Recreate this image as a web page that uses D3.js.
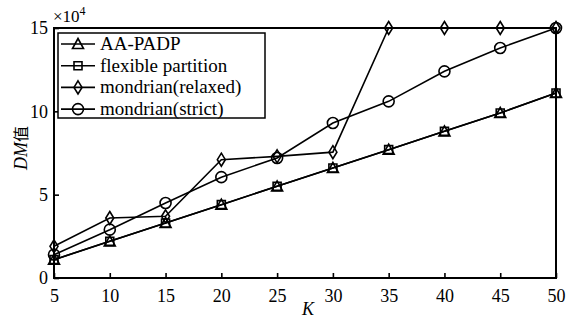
<!DOCTYPE html>
<html>
<head>
<meta charset="utf-8">
<script src="https://cdn.jsdelivr.net/npm/d3@7"></script>
<style>
  body { margin: 0; background: #fff; }
  svg text { font-family: "Liberation Serif", "Times New Roman", "Noto Sans CJK SC", serif; fill: #000; }
</style>
</head>
<body>
<div id="main"></div>
<script>
// K values on the x axis
const ks = [5, 10, 15, 20, 25, 30, 35, 40, 45, 50];

// DM values, in units of 10^4
const aaPadp = [1.1, 2.2, 3.3, 4.4, 5.5, 6.6, 7.7, 8.8, 9.9, 11.1];
const flexible = [1.1, 2.2, 3.3, 4.4, 5.5, 6.6, 7.7, 8.8, 9.9, 11.1];
const relaxed = [1.9, 3.6, 3.7, 7.1, 7.3, 7.55, 15, 15, 15, 15];
const strict = [1.4, 2.9, 4.5, 6.05, 7.2, 9.3, 10.6, 12.4, 13.8, 15];

const xTicks = [5, 10, 15, 20, 25, 30, 35, 40, 45, 50];
const yTicks = [0, 5, 10, 15];

const seriesNames = ["AA-PADP", "flexible partition", "mondrian(relaxed)", "mondrian(strict)"];
const seriesValues = [aaPadp, flexible, relaxed, strict];
const seriesMarks = ["triangle", "square", "diamond", "circle"];

const width = 568, height = 320;
const plotLeft = 54, plotRight = 556, plotTop = 28, plotBottom = 278;

const svg = d3.select("#main").append("svg")
    .attr("width", width)
    .attr("height", height);

const x = d3.scaleLinear().domain([5, 50]).range([plotLeft, plotRight]);
const y = d3.scaleLinear().domain([0, 15]).range([plotBottom, plotTop]);

// marker shapes
function markPath(kind) {
    if (kind == "triangle") return "M0,-5.5L5.5,4.5L-5.5,4.5Z";
    if (kind == "square") return "M-4,-4L4,-4L4,4L-4,4Z";
    if (kind == "diamond") return "M0,-6.5L4,0L0,6.5L-4,0Z";
    return d3.symbol().type(d3.symbolCircle).size(Math.PI * 5.5 * 5.5)();
}

const lineGenerator = d3.line()
    .x((d, i) => x(ks[i]))
    .y((d) => y(d));

const chart = svg.append("g");

seriesValues.forEach((vals, s) => {
    chart.append("path")
        .attr("fill", "none")
        .attr("stroke", "#000")
        .attr("stroke-width", 1.6)
        .attr("d", lineGenerator(vals));
});

seriesValues.forEach((vals, s) => {
    chart.selectAll(null)
        .data(vals)
        .enter()
        .append("path")
        .attr("transform", (d, i) => `translate(${x(ks[i])},${y(d)})`)
        .attr("d", markPath(seriesMarks[s]))
        .attr("fill", "none")
        .attr("stroke", "#000")
        .attr("stroke-width", 1.6);
});

// frame
svg.append("rect")
    .attr("x", plotLeft).attr("y", plotTop)
    .attr("width", plotRight - plotLeft).attr("height", plotBottom - plotTop)
    .attr("fill", "none")
    .attr("stroke", "#000")
    .attr("stroke-width", 2);

// axes with inward ticks
const xAxis = svg.append("g")
    .attr("transform", `translate(0,${plotBottom})`)
    .call(d3.axisBottom(x).tickValues(xTicks).tickSizeInner(-5).tickSizeOuter(0).tickPadding(11));
const yAxis = svg.append("g")
    .attr("transform", `translate(${plotLeft},0)`)
    .call(d3.axisLeft(y).tickValues(yTicks).tickSizeInner(-5).tickSizeOuter(0).tickPadding(6));

[xAxis, yAxis].forEach((ax) => {
    ax.select(".domain").remove();
    ax.selectAll("line").attr("stroke", "#000").attr("stroke-width", 1.6);
    ax.selectAll("text")
        .attr("fill", "#000")
        .style("font-family", '"Liberation Serif", serif')
        .style("font-size", "18px");
});

// exponent label
const expo = svg.append("text")
    .attr("x", 53)
    .attr("y", 22)
    .style("font-size", "17px");
expo.append("tspan").text("×10");
expo.append("tspan").attr("dy", -7).style("font-size", "12px").text("4");

// axis titles
const yTitle = svg.append("text")
    .attr("transform", "translate(27,148) rotate(-90)")
    .attr("text-anchor", "middle")
    .style("font-size", "18px");
yTitle.append("tspan").style("font-style", "italic").text("DM");
yTitle.append("tspan").style("font-family", '"Noto Sans CJK SC", sans-serif').style("font-size", "16px").text("值");

svg.append("text")
    .attr("x", 308)
    .attr("y", 315)
    .attr("text-anchor", "middle")
    .style("font-size", "18px")
    .style("font-style", "italic")
    .text("K");

// legend
const legend = svg.append("g");
legend.append("rect")
    .attr("x", 58).attr("y", 33)
    .attr("width", 207).attr("height", 85)
    .attr("fill", "#fff")
    .attr("stroke", "#000")
    .attr("stroke-width", 1.5);

seriesNames.forEach((name, s) => {
    const ly = 44 + s * 21.7;
    legend.append("line")
        .attr("x1", 61).attr("x2", 95)
        .attr("y1", ly).attr("y2", ly)
        .attr("stroke", "#000")
        .attr("stroke-width", 1.6);
    legend.append("path")
        .attr("transform", `translate(78,${ly})`)
        .attr("d", markPath(seriesMarks[s]))
        .attr("fill", "none")
        .attr("stroke", "#000")
        .attr("stroke-width", 1.6);
    legend.append("text")
        .attr("x", 100)
        .attr("y", ly + 6)
        .style("font-size", "19px")
        .text(name);
});
</script>
</body>
</html>
